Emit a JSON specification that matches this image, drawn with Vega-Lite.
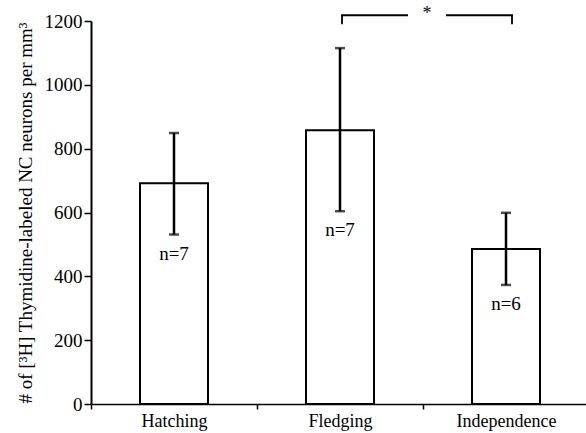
{
  "$schema": "https://vega.github.io/schema/vega-lite/v6.json",
  "autosize": "none",
  "width": 498,
  "height": 383,
  "padding": {"left": 91, "top": 21, "right": 0, "bottom": 29},
  "background": "white",
  "config": {
    "view": {"stroke": null},
    "font": "Liberation Serif",
    "text": {"font": "Liberation Serif"},
    "axis": {"grid": false, "domainColor": "black", "tickColor": "black", "labelColor": "black", "titleColor": "black", "labelFont": "Liberation Serif", "titleFont": "Liberation Serif", "titleFontWeight": "normal"}
  },
  "datasets": {
    "bars": [
      {"stage": "Hatching", "mean": 692, "lower": 531, "upper": 849, "n": "n=7"},
      {"stage": "Fledging", "mean": 858, "lower": 604, "upper": 1115, "n": "n=7"},
      {"stage": "Independence", "mean": 486, "lower": 373, "upper": 599, "n": "n=6"}
    ],
    "bracket": [
      {"from": "Fledging", "to": "Independence", "top": 1218, "bottom": 1190, "label": "*"}
    ]
  },
  "encoding": {
    "x": {
      "field": "stage", "type": "nominal",
      "scale": {"domain": ["Hatching", "Fledging", "Independence"], "paddingInner": 0, "paddingOuter": 0},
      "axis": {"title": null, "labelAngle": 0, "tickBand": "extent", "tickSize": 5, "tickWidth": 1.5, "domainWidth": 1.5, "labelFontSize": 18, "labelPadding": 3, "labelFont": "Liberation Serif"}
    }
  },
  "layer": [
    {
      "data": {"name": "bars"},
      "mark": {"type": "bar", "size": 68, "fill": "white", "stroke": "black", "strokeWidth": 2},
      "encoding": {
        "y": {
          "field": "mean", "type": "quantitative",
          "scale": {"domain": [0, 1200], "nice": false},
          "axis": {"values": [0, 200, 400, 600, 800, 1000, 1200], "format": "d", "tickSize": 7, "tickWidth": 1.5, "domainWidth": 2, "labelFontSize": 19, "labelPadding": 2, "labelFont": "Liberation Serif",
                   "title": "# of [³H] Thymidine-labeled NC neurons per mm³", "titleFont": "Liberation Serif", "titleFontSize": 19, "titlePadding": 9}
        }
      }
    },
    {
      "data": {"name": "bars"},
      "mark": {"type": "rule", "strokeWidth": 2.5, "color": "black"},
      "encoding": {"y": {"field": "lower", "type": "quantitative"}, "y2": {"field": "upper"}}
    },
    {
      "data": {"name": "bars"},
      "mark": {"type": "tick", "size": 10, "thickness": 2.5, "color": "black", "orient": "horizontal"},
      "encoding": {"y": {"field": "lower", "type": "quantitative"}}
    },
    {
      "data": {"name": "bars"},
      "mark": {"type": "tick", "size": 10, "thickness": 2.5, "color": "black", "orient": "horizontal"},
      "encoding": {"y": {"field": "upper", "type": "quantitative"}}
    },
    {
      "data": {"name": "bars"},
      "mark": {"type": "text", "font": "Liberation Serif", "fontSize": 19, "dy": 19, "baseline": "middle", "align": "center", "color": "black"},
      "encoding": {"y": {"field": "lower", "type": "quantitative"}, "text": {"field": "n"}}
    },
    {
      "data": {"name": "bracket"},
      "mark": {"type": "rule", "strokeWidth": 1.8, "color": "black", "clip": false, "xOffset": 2, "x2Offset": 2},
      "encoding": {"x": {"field": "from"}, "y": {"field": "top", "type": "quantitative"}, "y2": {"field": "bottom"}}
    },
    {
      "data": {"name": "bracket"},
      "mark": {"type": "rule", "strokeWidth": 1.8, "color": "black", "clip": false, "xOffset": 6, "x2Offset": 6},
      "encoding": {"x": {"field": "to"}, "y": {"field": "top", "type": "quantitative"}, "y2": {"field": "bottom"}}
    },
    {
      "data": {"name": "bracket"},
      "mark": {"type": "rule", "strokeWidth": 1.8, "color": "black", "clip": false, "xOffset": 1, "x2Offset": 68},
      "encoding": {"x": {"field": "from"}, "x2": {"field": "from"}, "y": {"field": "top", "type": "quantitative"}}
    },
    {
      "data": {"name": "bracket"},
      "mark": {"type": "rule", "strokeWidth": 1.8, "color": "black", "clip": false, "xOffset": -60, "x2Offset": 7},
      "encoding": {"x": {"field": "to"}, "x2": {"field": "to"}, "y": {"field": "top", "type": "quantitative"}}
    },
    {
      "data": {"name": "bracket"},
      "mark": {"type": "text", "font": "Liberation Serif", "fontSize": 18, "xOffset": 87, "dy": -1, "baseline": "middle", "align": "center", "color": "black", "clip": false},
      "encoding": {"x": {"field": "from"}, "y": {"field": "top", "type": "quantitative"}, "text": {"field": "label"}}
    }
  ]
}
